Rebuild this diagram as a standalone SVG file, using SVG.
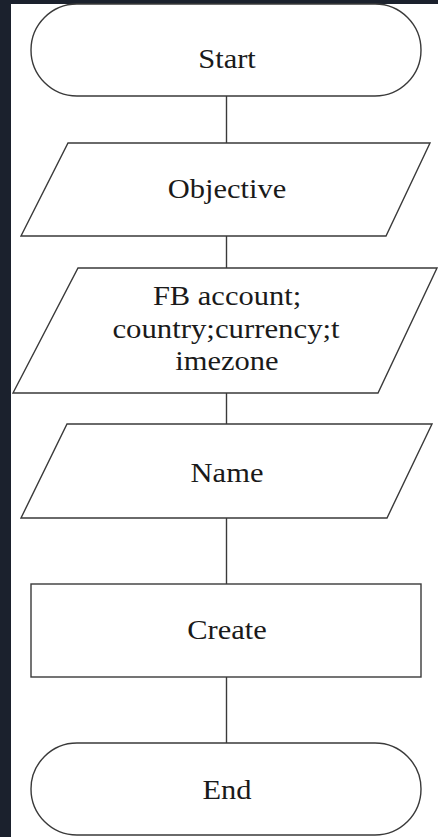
<svg xmlns="http://www.w3.org/2000/svg" width="438" height="837" viewBox="0 0 438 837">
<style>
.s{fill:#ffffff;stroke:#3a3a3a;stroke-width:1.4}
.c{stroke:#3a3a3a;stroke-width:1.4;fill:none}
text{font-family:"Liberation Serif","Times New Roman",serif;font-size:27px;fill:#1a1a1a;text-anchor:middle}
</style>
<rect x="0" y="0" width="438" height="837" fill="#1b212d"/>
<rect x="11" y="4" width="427" height="833" fill="#ffffff"/>
<g id="connectors">
<line class="c" x1="226.5" y1="96" x2="226.5" y2="143"/>
<line class="c" x1="226.5" y1="236" x2="226.5" y2="268"/>
<line class="c" x1="226.5" y1="393" x2="226.5" y2="424"/>
<line class="c" x1="226.5" y1="518" x2="226.5" y2="584"/>
<line class="c" x1="226.5" y1="677" x2="226.5" y2="743"/>
</g>
<g id="start">
<rect class="s" x="31" y="4" width="390" height="92" rx="46" ry="46"/>
<text transform="translate(227,68) scale(1.13,1)">Start</text>
</g>
<g id="objective">
<polygon class="s" points="68,143 430,143 386,236 21,236"/>
<text transform="translate(227,198) scale(1.13,1)">Objective</text>
</g>
<g id="fb">
<polygon class="s" points="78,268 437,268 378,393 13,393"/>
<text transform="translate(227,305) scale(1.13,1)">FB account;</text>
<text transform="translate(226,338) scale(1.14,1)">country;currency;t</text>
<text transform="translate(227,370) scale(1.13,1)">imezone</text>
</g>
<g id="name">
<polygon class="s" points="67,424 432,424 387,518 21,518"/>
<text transform="translate(227,482) scale(1.13,1)">Name</text>
</g>
<g id="create">
<rect class="s" x="31" y="584" width="390" height="93"/>
<text transform="translate(227,639) scale(1.13,1)">Create</text>
</g>
<g id="end">
<rect class="s" x="31" y="743" width="390" height="92" rx="46" ry="46"/>
<text transform="translate(227,799) scale(1.13,1)">End</text>
</g>
</svg>
